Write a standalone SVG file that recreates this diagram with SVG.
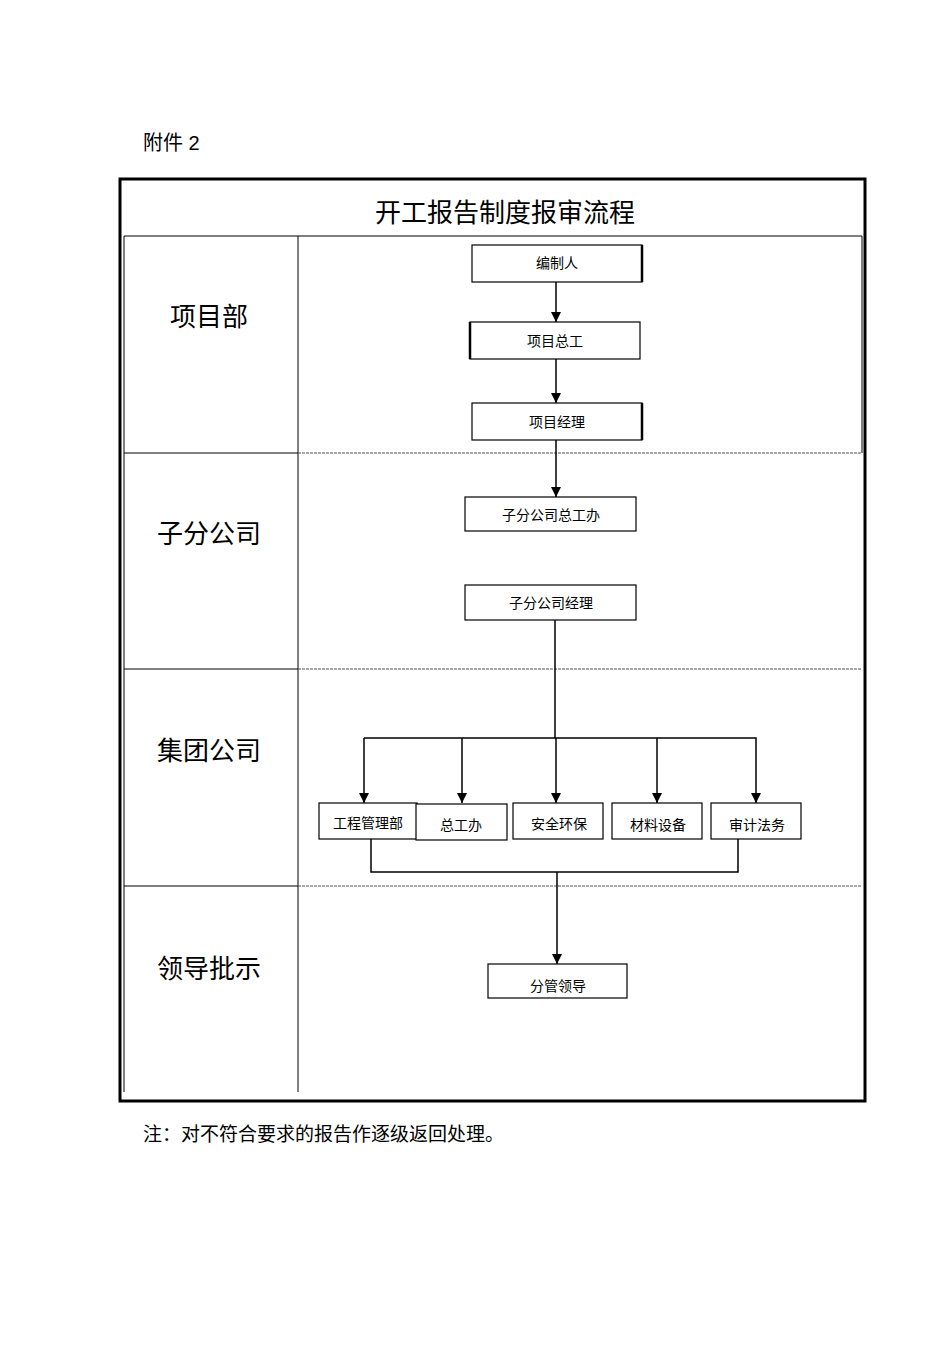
<svg xmlns="http://www.w3.org/2000/svg" width="950" height="1345" viewBox="0 0 950 1345">
<style>
text{font-family:"Liberation Sans","Noto Sans CJK SC",sans-serif;fill:#000}
.box{fill:#fff;stroke:#000;stroke-width:1.2}
.bt{font-size:14px;text-anchor:middle}
.lane{font-size:26px;text-anchor:middle}
.c{stroke:#000;stroke-width:1.5;fill:none}
.d{stroke:#555;stroke-width:1;stroke-dasharray:3 1}
</style>
<defs><marker id="a" markerWidth="10" markerHeight="10" refX="10" refY="5" orient="auto" markerUnits="userSpaceOnUse" viewBox="0 0 10 10"><path d="M0,0 L10,5 L0,10 Z" fill="#000"/></marker></defs>
<rect width="950" height="1345" fill="#fff"/>
<text x="143" y="150" font-size="20">附件 2</text>
<g id="frame">
<rect x="120" y="179" width="745" height="922" fill="none" stroke="#000" stroke-width="3"/>
<text x="505" y="222" font-size="26" text-anchor="middle">开工报告制度报审流程</text>
<line x1="124" y1="236" x2="862" y2="236" stroke="#000"/>
<line x1="124" y1="236" x2="124" y2="1092" stroke="#000"/>
<line x1="862" y1="236" x2="862" y2="453" stroke="#000"/>
<line x1="298" y1="236" x2="298" y2="1092" stroke="#000"/>
<line x1="124" y1="453" x2="298" y2="453" stroke="#000"/>
<line x1="124" y1="669" x2="298" y2="669" stroke="#000"/>
<line x1="124" y1="886" x2="298" y2="886" stroke="#000"/>
<line class="d" x1="298" y1="453" x2="862" y2="453"/>
<line class="d" x1="298" y1="669" x2="862" y2="669"/>
<line class="d" x1="298" y1="886" x2="862" y2="886"/>
<text class="lane" x="209" y="326">项目部</text>
<text class="lane" x="209" y="543">子分公司</text>
<text class="lane" x="209" y="760">集团公司</text>
<text class="lane" x="209" y="978">领导批示</text>
</g>
<g id="connectors">
<line class="c" x1="556" y1="282" x2="556" y2="322" marker-end="url(#a)"/>
<line class="c" x1="556" y1="359" x2="556" y2="403" marker-end="url(#a)"/>
<line class="c" x1="556" y1="440" x2="556" y2="497" marker-end="url(#a)"/>
<polyline class="c" points="555,620 555,738"/>
<polyline class="c" points="364,738 756,738 756,803" marker-end="url(#a)"/>
<line class="c" x1="364" y1="738" x2="364" y2="803" marker-end="url(#a)"/>
<line class="c" x1="462" y1="738" x2="462" y2="803" marker-end="url(#a)"/>
<line class="c" x1="556" y1="738" x2="556" y2="803" marker-end="url(#a)"/>
<line class="c" x1="657" y1="738" x2="657" y2="803" marker-end="url(#a)"/>
<polyline class="c" points="371,839 371,872 738,872 738,839"/>
<line class="c" x1="557" y1="872" x2="557" y2="964" marker-end="url(#a)"/>
</g>
<g id="n1"><rect class="box" x="472" y="245" width="170" height="37"/><line x1="642" y1="245" x2="642" y2="282" stroke="#000" stroke-width="2.5"/><text class="bt" x="557" y="268">编制人</text></g>
<g id="n2"><rect class="box" x="470" y="322" width="170" height="37"/><line x1="470" y1="322" x2="470" y2="359" stroke="#000" stroke-width="2.5"/><text class="bt" x="555" y="346">项目总工</text></g>
<g id="n3"><rect class="box" x="472" y="403" width="170" height="37"/><line x1="642" y1="403" x2="642" y2="440" stroke="#000" stroke-width="2.5"/><text class="bt" x="557" y="427">项目经理</text></g>
<g id="n4"><rect class="box" x="465" y="497" width="171" height="34"/><text class="bt" x="551" y="520">子分公司总工办</text></g>
<g id="n5"><rect class="box" x="465" y="585" width="171" height="35"/><text class="bt" x="551" y="608">子分公司经理</text></g>
<g id="n6"><rect class="box" x="319" y="803" width="98" height="36"/><text class="bt" x="368" y="828">工程管理部</text></g>
<g id="n7"><rect class="box" x="416" y="804" width="91" height="36"/><text class="bt" x="461" y="830">总工办</text></g>
<g id="n8"><rect class="box" x="513" y="803" width="90" height="36"/><text class="bt" x="559" y="829">安全环保</text></g>
<g id="n9"><rect class="box" x="612" y="803" width="90" height="36"/><text class="bt" x="658" y="830">材料设备</text></g>
<g id="n10"><rect class="box" x="711" y="803" width="90" height="36"/><text class="bt" x="757" y="830">审计法务</text></g>
<g id="n11"><rect class="box" x="488" y="964" width="139" height="34"/><text class="bt" x="558" y="991">分管领导</text></g>
<text x="143" y="1141" font-size="19">注：对不符合要求的报告作逐级返回处理。</text>
</svg>
